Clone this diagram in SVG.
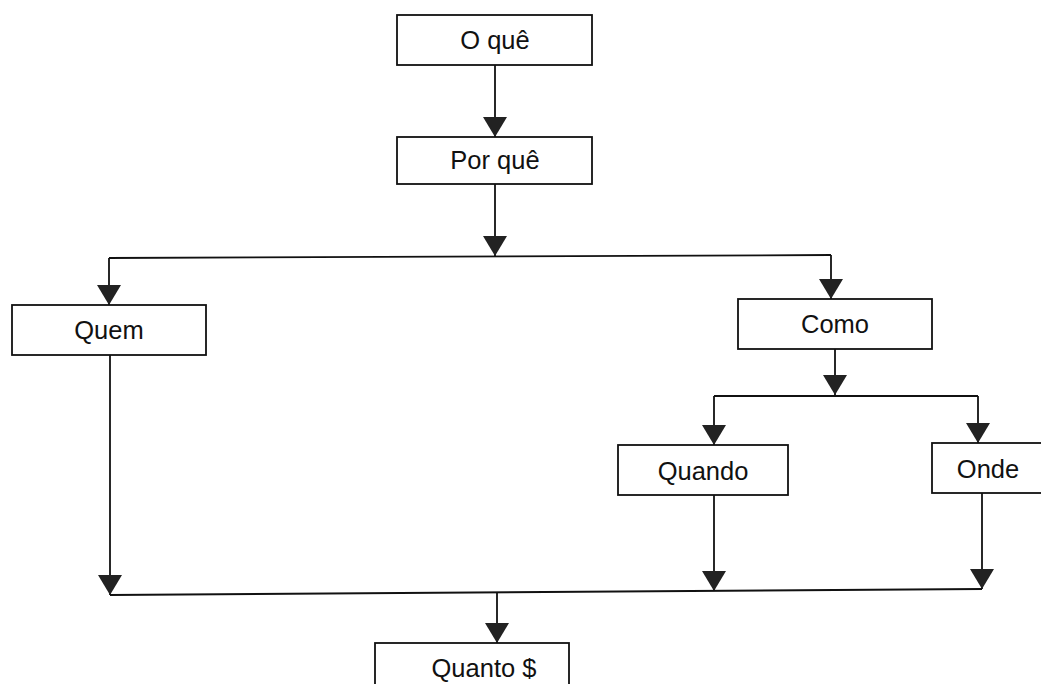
<svg xmlns="http://www.w3.org/2000/svg" width="1041" height="684" viewBox="0 0 1041 684">
<style>
.box{fill:#fff;stroke:#111;stroke-width:1.8}
.lbl{font-family:"Liberation Sans",Arial,sans-serif;font-size:25.5px;fill:#111;text-anchor:middle}
.con{fill:none;stroke:#111;stroke-width:1.8}
.arr{marker-end:url(#ah)}
</style>
<defs>
<marker id="ah" markerUnits="userSpaceOnUse" markerWidth="20" markerHeight="24" refX="20" refY="12" orient="auto">
<path d="M0,0 L20,12 L0,24 z" fill="#222"/>
</marker>
</defs>
<rect width="1041" height="684" fill="#fff"/>
<g id="connectors">
<path class="con arr" d="M495,65 V137"/>
<path class="con arr" d="M495,184 V256"/>
<path class="con" d="M109,258 L831,255"/>
<path class="con arr" d="M109,258 V305"/>
<path class="con arr" d="M831,255 V299"/>
<path class="con arr" d="M835,349 V395"/>
<path class="con" d="M714,396 H978"/>
<path class="con arr" d="M714,396 V445"/>
<path class="con arr" d="M978,396 V443"/>
<path class="con arr" d="M110,355 V595"/>
<path class="con arr" d="M714,495 V591"/>
<path class="con arr" d="M982,493 V589"/>
<path class="con" d="M110,595 L982,589"/>
<path class="con arr" d="M497,593 V643"/>
</g>
<g id="n-oque"><rect class="box" x="397" y="15" width="195" height="50"/><text class="lbl" x="495" y="49">O quê</text></g>
<g id="n-porque"><rect class="box" x="397" y="137" width="195" height="47"/><text class="lbl" x="495" y="169">Por quê</text></g>
<g id="n-quem"><rect class="box" x="12" y="305" width="194" height="50"/><text class="lbl" x="109" y="339">Quem</text></g>
<g id="n-como"><rect class="box" x="738" y="299" width="194" height="50"/><text class="lbl" x="835" y="333">Como</text></g>
<g id="n-quando"><rect class="box" x="618" y="445" width="170" height="50"/><text class="lbl" x="703" y="480">Quando</text></g>
<g id="n-onde"><rect class="box" x="932" y="443" width="120" height="50"/><text class="lbl" x="988" y="478">Onde</text></g>
<g id="n-quanto"><rect class="box" x="375" y="643" width="194" height="50"/><text class="lbl" x="484" y="677">Quanto $</text></g>
</svg>
